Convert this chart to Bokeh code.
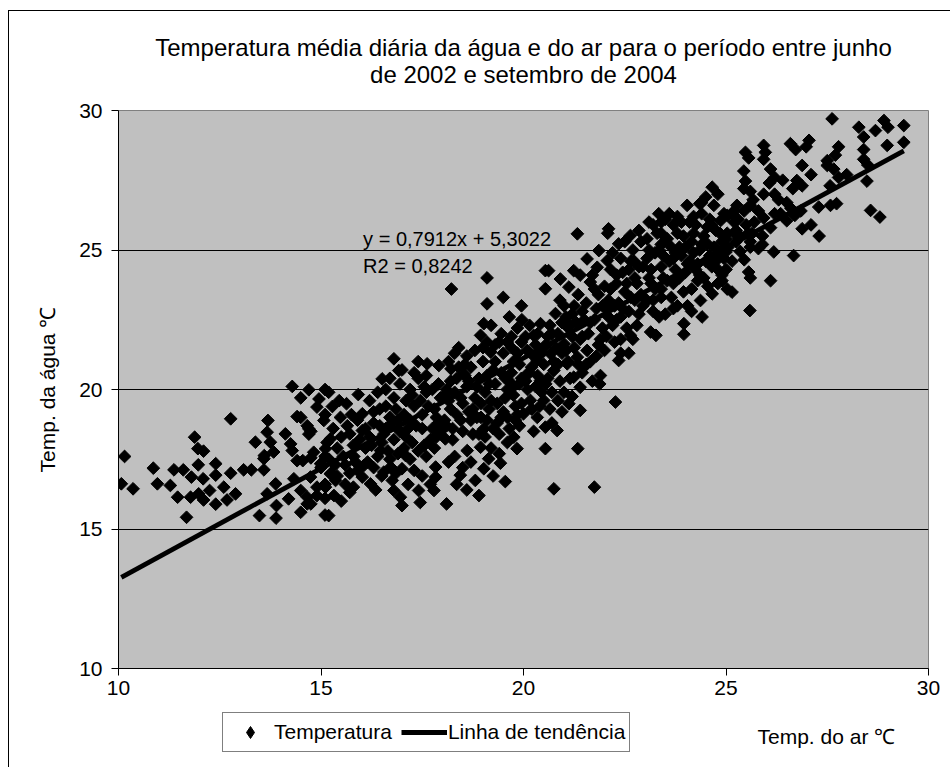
import math
from bokeh.plotting import figure
from bokeh.layouts import column
from bokeh.models import Range1d, FixedTicker, Label, Legend, LegendItem
from bokeh.embed import file_html
from bokeh.resources import INLINE

FONT = "Liberation Sans"

# ---------------- data (air temperature, water temperature) in degC ----------------
seg_10_15 = [
    (10.07, 16.62), (10.15, 17.6), (10.36, 16.44), (10.86, 17.18), (10.96, 16.62), (11.28, 16.56),
    (11.37, 17.12), (11.46, 16.14), (11.6, 17.12), (11.68, 15.42), (11.78, 16.14), (11.8, 16.86),
    (11.88, 18.29), (11.96, 17.88), (11.97, 17.3), (11.98, 16.26), (12.09, 16.8), (12.1, 17.79),
    (12.1, 16.04), (12.25, 16.38), (12.4, 17.34), (12.4, 16.93), (12.4, 15.89), (12.6, 16.5),
    (12.68, 16.04), (12.77, 18.95), (12.77, 17.0), (12.89, 16.26), (13.09, 17.12), (13.28, 17.12),
    (13.38, 18.11), (13.48, 15.48), (13.59, 17.12), (13.59, 17.52), (13.6, 17.63), (13.67, 18.47),
    (13.67, 16.26), (13.69, 18.89), (13.75, 18.11), (13.83, 17.76), (13.88, 16.62), (13.89, 15.39),
    (13.9, 15.84), (14.12, 18.41), (14.2, 16.08), (14.25, 18.05), (14.29, 20.11), (14.29, 17.81),
    (14.33, 16.8), (14.41, 19.03), (14.41, 17.45), (14.5, 19.7), (14.5, 19.0), (14.5, 16.38),
    (14.5, 15.6), (14.55, 17.45), (14.66, 18.7), (14.66, 16.14), (14.66, 15.9), (14.7, 19.99),
    (14.7, 18.59), (14.7, 18.4), (14.74, 16.86), (14.75, 17.55), (14.75, 18.5), (14.75, 15.9),
    (14.82, 17.75), (14.9, 19.37), (14.9, 16.5), (14.9, 16.2), (14.95, 19.66), (14.99, 17.34),
]

seg_15_20 = [
    (15.0, 17.2), (15.1, 19.1), (15.1, 15.5), (15.1, 16.6), (15.1, 16.1), (15.1, 17.6), (15.1, 20.0),
    (15.07, 18.89), (15.11, 17.88), (15.11, 16.5), (15.19, 19.9), (15.19, 15.48), (15.23, 18.23),
    (15.23, 16.98), (15.28, 19.39), (15.32, 16.2), (15.36, 16.74), (15.48, 19.0), (15.63, 19.49),
    (15.71, 18.41), (15.71, 17.0), (15.71, 16.31), (15.81, 17.6), (15.92, 19.82), (16.02, 19.13),
    (16.02, 18.53), (16.02, 16.86), (16.06, 17.28), (16.22, 16.62), (16.3, 19.2), (16.47, 17.81),
    (16.51, 20.38), (16.55, 17.04), (16.72, 17.22), (16.76, 16.74), (16.8, 21.1), (16.8, 16.38),
    (16.92, 20.68), (16.96, 16.14), (17.0, 15.84), (17.0, 17.16), (17.0, 17.8), (17.09, 17.63),
    (17.41, 16.38), (17.62, 20.92), (17.79, 16.38), (17.83, 16.86), (17.83, 17.22), (17.91, 20.86),
    (18.07, 18.23), (18.1, 15.9), (18.21, 20.74), (18.22, 23.6), (18.44, 16.93), (18.53, 20.56),
    (18.61, 17.81), (18.7, 17.4), (18.7, 20.8), (18.81, 16.74), (18.94, 17.93), (18.94, 21.94),
    (19.0, 21.5), (19.0, 21.0), (19.02, 18.59), (19.02, 17.16), (19.02, 22.36), (19.1, 24.0),
    (19.1, 23.07), (19.1, 21.7), (19.14, 17.52), (19.19, 21.34), (19.2, 22.3), (19.3, 21.6),
    (19.43, 17.36), (19.6, 21.7), (19.7, 21.9), (19.76, 18.29), (19.84, 17.88), (19.9, 18.7),
    (19.95, 23.0), (19.95, 21.7), (19.96, 22.5),
    (15.2, 17.5), (15.4, 17.9), (15.5, 18.3), (15.6, 17.3), (15.8, 18.0), (15.9, 18.9), (15.4, 16.9),
    (15.6, 16.6), (15.3, 18.6), (15.9, 17.1), (15.5, 16.0), (15.8, 16.5), (15.45, 19.6), (15.75, 19.1),
    (15.15, 18.1), (15.35, 17.3), (15.55, 17.6), (15.65, 18.7), (15.85, 17.4), (15.95, 18.2),
    (15.25, 17.0),
    (16.1, 17.9), (16.2, 18.3), (16.3, 18.8), (16.4, 17.6), (16.5, 18.1), (16.6, 18.6), (16.7, 19.0),
    (16.8, 18.2), (16.9, 17.7), (16.2, 19.6), (16.4, 19.9), (16.6, 19.4), (16.8, 19.7), (16.9, 18.9),
    (16.3, 17.2), (16.5, 16.9), (16.7, 17.5), (16.1, 18.6), (16.6, 20.0), (16.95, 20.2), (16.35, 16.4),
    (16.85, 17.0), (16.15, 17.4), (16.25, 18.0), (16.45, 18.7), (16.55, 18.4), (16.65, 17.8),
    (16.75, 18.8), (16.85, 19.3), (16.95, 18.5), (16.45, 19.3), (16.7, 20.4),
    (17.1, 18.3), (17.2, 18.9), (17.3, 19.4), (17.4, 17.8), (17.5, 18.6), (17.6, 19.9), (17.7, 18.2),
    (17.8, 19.3), (17.9, 20.2), (17.2, 20.0), (17.4, 20.4), (17.6, 17.6), (17.8, 17.9), (17.3, 17.1),
    (17.5, 16.9), (17.7, 16.6), (17.9, 18.8), (17.1, 19.6), (17.5, 19.1), (17.95, 19.7), (17.3, 20.6),
    (17.6, 20.5), (17.2, 17.5), (17.15, 16.6), (17.45, 15.95), (17.05, 17.9), (17.05, 19.1),
    (17.15, 18.6), (17.25, 18.1), (17.25, 19.8), (17.35, 18.7), (17.45, 19.6), (17.55, 18.0),
    (17.55, 20.1), (17.65, 19.4), (17.75, 18.6), (17.75, 20.0), (17.85, 18.3), (17.85, 19.0),
    (17.95, 18.5), (17.0, 20.7), (17.4, 21.0),
    (18.1, 18.7), (18.2, 19.3), (18.3, 19.9), (18.5, 19.5), (18.6, 20.1), (18.7, 18.9), (18.8, 19.7),
    (18.9, 20.4), (18.2, 20.3), (18.4, 20.8), (18.6, 21.2), (18.8, 21.4), (18.9, 18.4), (18.3, 17.6),
    (18.5, 17.2), (18.15, 17.4), (18.35, 16.6), (18.6, 16.4), (18.9, 16.2), (18.45, 18.9), (18.75, 19.3),
    (18.05, 19.8), (18.95, 19.0), (18.55, 20.5), (18.3, 21.3), (18.25, 18.2), (18.05, 18.9),
    (18.1, 20.0), (18.15, 19.6), (18.25, 18.6), (18.35, 19.1), (18.35, 20.4), (18.45, 19.7),
    (18.5, 18.5), (18.55, 20.9), (18.65, 19.2), (18.65, 20.3), (18.75, 18.4), (18.85, 20.1),
    (18.85, 19.0), (18.95, 19.5), (18.4, 21.5), (18.15, 21.0),
    (19.1, 18.9), (19.2, 19.6), (19.3, 20.2), (19.4, 18.4), (19.5, 19.2), (19.6, 20.0), (19.7, 20.6),
    (19.8, 19.4), (19.9, 20.9), (19.1, 20.5), (19.3, 21.0), (19.5, 21.3), (19.7, 21.5), (19.2, 17.9),
    (19.4, 17.7), (19.6, 18.1), (19.8, 18.9), (19.05, 19.9), (19.35, 18.8), (19.55, 20.4), (19.75, 19.8),
    (19.95, 19.5), (19.45, 22.0), (19.65, 22.6), (19.85, 22.2), (19.25, 16.9), (19.55, 16.7), (19.5, 23.3),
    (19.9, 20.2), (19.6, 19.0), (19.05, 18.3), (19.15, 19.3), (19.15, 20.2), (19.25, 20.7),
    (19.25, 18.6), (19.35, 19.5), (19.45, 20.6), (19.45, 19.0), (19.4, 21.7), (19.55, 19.7),
    (19.65, 20.3), (19.65, 18.6), (19.75, 21.0), (19.75, 20.1), (19.85, 19.1), (19.85, 21.3),
    (19.95, 20.4),
]

seg_20_25 = [
    (20.0, 19.13), (20.09, 21.4), (20.09, 20.56), (20.17, 19.61), (20.25, 21.94), (20.25, 18.5),
    (20.34, 21.04), (20.34, 19.0), (20.42, 22.36), (20.42, 20.32), (20.5, 19.61), (20.54, 24.26),
    (20.54, 23.61), (20.54, 18.65), (20.54, 17.88), (20.62, 24.26), (20.67, 21.28), (20.7, 22.0),
    (20.7, 18.8), (20.75, 20.68), (20.75, 16.44), (20.79, 22.72), (20.83, 18.53), (20.9, 23.2),
    (20.91, 23.96), (21.0, 23.0), (21.0, 21.64), (21.0, 19.9), (21.08, 22.24), (21.08, 20.92),
    (21.12, 23.67), (21.12, 19.49), (21.2, 22.7), (21.2, 19.75), (21.24, 24.26), (21.24, 20.44),
    (21.33, 25.58), (21.33, 21.16), (21.34, 17.88), (21.4, 24.1), (21.4, 21.8), (21.4, 20.08),
    (21.4, 19.25), (21.49, 20.8), (21.5, 22.5), (21.57, 24.68), (21.57, 21.4), (21.6, 22.0),
    (21.65, 23.85), (21.7, 20.3), (21.75, 16.5), (21.8, 22.9), (21.8, 21.2), (21.82, 24.38),
    (21.86, 24.98), (21.88, 20.2), (21.9, 21.8), (21.9, 20.5), (22.0, 23.7), (22.0, 21.4),
    (22.07, 24.62), (22.08, 25.6), (22.1, 25.76), (22.1, 23.2), (22.1, 22.6), (22.2, 22.3),
    (22.27, 19.55), (22.3, 24.1), (22.35, 25.22), (22.35, 21.04), (22.4, 24.7), (22.4, 22.6),
    (22.4, 21.8), (22.4, 21.3), (22.5, 23.5), (22.6, 24.3), (22.6, 22.8), (22.6, 21.3),
    (22.64, 25.52), (22.64, 21.94), (22.73, 24.6), (22.7, 25.0), (22.8, 23.8), (22.8, 22.3),
    (22.85, 25.7), (22.9, 23.4), (23.05, 23.19), (23.1, 26.0), (23.1, 25.0), (23.1, 24.0),
    (23.14, 22.06), (23.2, 25.9), (23.2, 22.8), (23.27, 21.94), (23.34, 26.3), (23.4, 26.0),
    (23.4, 25.2), (23.4, 25.6), (23.4, 24.4), (23.4, 23.6), (23.4, 23.3), (23.5, 26.1),
    (23.5, 22.7), (23.6, 26.3), (23.7, 25.9), (23.7, 24.7), (23.7, 23.8), (23.7, 22.9),
    (23.8, 26.2), (23.8, 25.6), (23.8, 23.0), (23.96, 22.36), (23.96, 21.98), (24.0, 25.1),
    (24.0, 24.2), (24.04, 26.6), (24.1, 26.0), (24.15, 23.6), (24.2, 26.2), (24.2, 25.6),
    (24.3, 24.5), (24.3, 23.9), (24.35, 26.66), (24.37, 23.19), (24.4, 26.7), (24.4, 26.3),
    (24.4, 25.2), (24.41, 22.6), (24.5, 24.6), (24.54, 25.82), (24.6, 24.8), (24.66, 27.25),
    (24.66, 23.43), (24.7, 26.6), (24.7, 25.1), (24.8, 24.3), (24.8, 23.8), (24.87, 26.06),
    (24.9, 25.3), (24.9, 23.9), (24.9, 24.1), (24.95, 24.7),
    (20.1, 20.0), (20.2, 20.8), (20.3, 21.6), (20.4, 19.4), (20.5, 20.9), (20.6, 21.9), (20.7, 19.9),
    (20.8, 21.5), (20.9, 20.3), (20.95, 22.4), (20.15, 22.3), (20.6, 20.4), (20.85, 19.6), (20.3, 20.1),
    (20.05, 20.3), (20.05, 21.9), (20.15, 20.6), (20.2, 19.3), (20.25, 21.2), (20.35, 20.5),
    (20.35, 22.0), (20.45, 21.3), (20.45, 19.9), (20.55, 20.2), (20.55, 21.6), (20.65, 19.3),
    (20.65, 22.3), (20.75, 21.0), (20.85, 20.9), (20.85, 22.0), (20.95, 21.3), (20.95, 19.2),
    (21.1, 21.0), (21.2, 21.9), (21.3, 22.4), (21.45, 20.6), (21.55, 23.1), (21.65, 21.0), (21.75, 22.5),
    (21.85, 23.4), (21.95, 22.2), (21.25, 23.0), (21.35, 20.9), (21.05, 22.6), (21.7, 24.1),
    (21.05, 21.4), (21.15, 20.4), (21.15, 22.3), (21.25, 21.5), (21.35, 23.4), (21.45, 21.9),
    (21.45, 22.8), (21.55, 20.9), (21.65, 22.4), (21.75, 23.6), (21.85, 21.6), (21.95, 23.0),
    (22.05, 22.9), (22.15, 23.6), (22.25, 21.7), (22.35, 23.1), (22.45, 24.2), (22.55, 22.2),
    (22.65, 23.3), (22.75, 24.0), (22.85, 22.7), (22.95, 24.4), (22.2, 24.9), (22.5, 25.3),
    (22.9, 25.3), (22.3, 22.5), (22.7, 21.8), (22.05, 21.9), (22.15, 24.3), (22.25, 23.0),
    (22.3, 23.8), (22.45, 22.9), (22.55, 23.8), (22.65, 24.6), (22.75, 23.2), (22.85, 24.4),
    (22.95, 23.0),
    (23.05, 24.7), (23.15, 23.8), (23.25, 24.9), (23.35, 22.6), (23.45, 24.0), (23.55, 25.4),
    (23.65, 23.3), (23.75, 24.3), (23.85, 25.1), (23.95, 23.5), (23.2, 23.2), (23.6, 24.6),
    (23.9, 24.8), (23.3, 25.6), (23.9, 26.0), (23.05, 25.4), (23.15, 24.3), (23.25, 23.6),
    (23.35, 25.0), (23.45, 24.8), (23.55, 23.9), (23.65, 25.1), (23.75, 24.9), (23.85, 24.0),
    (23.95, 25.5),
    (24.05, 23.0), (24.1, 24.6), (24.2, 24.9), (24.25, 25.9), (24.35, 24.1), (24.45, 25.5),
    (24.55, 23.7), (24.6, 26.1), (24.65, 24.4), (24.75, 25.7), (24.85, 24.9), (24.95, 26.3),
    (24.15, 22.8), (24.5, 26.9), (24.8, 27.0), (24.05, 24.5), (24.15, 25.3), (24.25, 24.3),
    (24.35, 25.0), (24.45, 24.0), (24.55, 25.2), (24.65, 25.9), (24.75, 24.6), (24.85, 25.6),
    (24.95, 25.0),
]

seg_25_30 = [
    (25.0, 24.93), (25.0, 25.4), (25.0, 24.3), (25.03, 26.24), (25.03, 25.6), (25.03, 23.6),
    (25.15, 23.49), (25.2, 26.4), (25.2, 26.0), (25.2, 25.6), (25.25, 25.3), (25.27, 26.6),
    (25.3, 26.1), (25.35, 24.95), (25.44, 27.83), (25.44, 27.2), (25.45, 24.65), (25.48, 28.5),
    (25.48, 27.47), (25.5, 25.9), (25.56, 28.3), (25.56, 24.21), (25.59, 22.83), (25.6, 27.1),
    (25.6, 26.6), (25.6, 25.3), (25.6, 25.1), (25.6, 24.0), (25.67, 26.8), (25.7, 26.0),
    (25.8, 26.4), (25.8, 25.05), (25.9, 25.5), (25.9, 25.2), (25.93, 28.75), (25.93, 28.25),
    (25.93, 27.0), (25.93, 26.15), (25.97, 28.5), (26.07, 27.4), (26.1, 27.9), (26.1, 25.8),
    (26.1, 23.9), (26.18, 24.93), (26.2, 27.6), (26.2, 27.0), (26.2, 26.3), (26.3, 26.8),
    (26.35, 26.3), (26.4, 27.5), (26.5, 26.7), (26.5, 26.05), (26.59, 28.81), (26.6, 26.5),
    (26.65, 27.2), (26.67, 24.8), (26.7, 26.24), (26.72, 28.6), (26.75, 27.49), (26.85, 26.4),
    (26.88, 28.03), (26.88, 27.3), (26.88, 25.76), (26.98, 28.7), (27.05, 28.93), (27.1, 27.7),
    (27.1, 25.9), (27.29, 26.54), (27.3, 25.5), (27.5, 28.03), (27.5, 28.2), (27.57, 27.3),
    (27.58, 26.6), (27.62, 29.7), (27.66, 27.9), (27.7, 28.4), (27.73, 26.66), (27.78, 28.7),
    (27.78, 27.6), (27.98, 27.7), (28.28, 29.4), (28.4, 29.05), (28.4, 28.6), (28.4, 28.25),
    (28.48, 27.47), (28.5, 28.05), (28.57, 26.42), (28.69, 29.28), (28.8, 26.18), (28.9, 29.64),
    (28.98, 28.75), (29.0, 29.4), (29.39, 29.46), (29.39, 28.86),
    (25.05, 25.1), (25.15, 24.6), (25.15, 26.3), (25.25, 25.7), (25.35, 25.5), (25.45, 26.4),
    (25.55, 25.6), (25.65, 25.6),
]

trend_slope = 0.7912
trend_intercept = 5.3022
x_ticks = [10, 15, 20, 25, 30]
y_ticks = [10, 15, 20, 25, 30]
grid_ticks = [15, 20, 25]

title_line1 = "Temperatura média diária da água e do ar para o período entre junho"
title_line2 = "de 2002 e setembro de 2004"
equation_text = "y = 0,7912x + 5,3022"
r2_text = "R2 = 0,8242"
y_label = "Temp. da água ℃"
x_label = "Temp. do ar ℃"
legend_labels = ["Temperatura", "Linha de tendência"]

all_pairs = seg_10_15 + seg_15_20 + seg_20_25 + seg_25_30
air_temp = [a for a, w in all_pairs]
water_temp = [w for a, w in all_pairs]

BORDERS = dict(min_border_left=109, min_border_right=22)


def strip_figure(height):
    """A white strip whose x and y ranges count pixels from the plot area's left / strip bottom."""
    f = figure(width=941, height=height, output_backend="svg", toolbar_location=None,
               x_range=Range1d(0, 810), y_range=Range1d(0, height), title=None,
               x_axis_type=None, y_axis_type=None,
               min_border_top=0, min_border_bottom=0, **BORDERS)
    f.outline_line_color = None
    f.background_fill_color = "white"
    f.border_fill_color = "white"
    f.xgrid.visible = False
    f.ygrid.visible = False
    return f


# ---------------- title strip ----------------
t = strip_figure(85)
t.add_layout(Label(x=405, y=49, text=title_line1, text_align="center", text_baseline="middle",
                   text_font=FONT, text_font_size="24px", text_color="black"))
t.add_layout(Label(x=405, y=22, text=title_line2, text_align="center", text_baseline="middle",
                   text_font=FONT, text_font_size="24px", text_color="black"))

# ---------------- main figure ----------------
p = figure(width=941, height=615, output_backend="svg", toolbar_location=None,
           x_range=Range1d(10, 30), y_range=Range1d(10, 30), title=None,
           min_border_top=14, min_border_bottom=43, **BORDERS)

p.background_fill_color = "#C0C0C0"
p.border_fill_color = "white"
p.outline_line_color = "#808080"
p.outline_line_width = 1

p.xaxis.ticker = FixedTicker(ticks=x_ticks)
p.yaxis.ticker = FixedTicker(ticks=y_ticks)
p.axis.minor_tick_line_color = None
p.axis.major_tick_in = 0
p.axis.major_tick_out = 7
p.axis.major_tick_line_color = "black"
p.axis.axis_line_color = "black"
p.axis.major_label_text_font = FONT
p.axis.major_label_text_font_size = "21px"
p.axis.major_label_text_color = "black"
p.xaxis.major_label_standoff = 5
p.yaxis.major_label_standoff = 9

p.yaxis.axis_label = y_label
p.yaxis.axis_label_text_font = FONT
p.yaxis.axis_label_text_font_size = "21px"
p.yaxis.axis_label_text_font_style = "normal"
p.yaxis.axis_label_text_color = "black"
p.yaxis.axis_label_standoff = 17

p.xgrid.visible = False
p.ygrid.ticker = FixedTicker(ticks=grid_ticks)
p.ygrid.grid_line_color = "black"
p.ygrid.grid_line_width = 1

p.scatter(air_temp, water_temp, marker="square", angle=math.pi / 4, size=9,
          fill_color="black", line_color="black")

trend_x = [min(air_temp), max(air_temp)]
trend_y = [trend_slope * x + trend_intercept for x in trend_x]
p.line(trend_x, trend_y, line_width=4.8, line_color="black")

p.add_layout(Label(x=16.04, y=25.4, text=equation_text, text_baseline="middle",
                   text_font=FONT, text_font_size="20px", text_color="black"))
p.add_layout(Label(x=16.04, y=24.43, text=r2_text, text_baseline="middle",
                   text_font=FONT, text_font_size="20px", text_color="black"))

# ---------------- legend strip ----------------
q = strip_figure(56)
nan = float("nan")
leg_pts = q.scatter(x=[nan], y=[nan], marker="diamond", size=10,
                    fill_color="black", line_color="black")
leg_line = q.line(x=[nan, nan], y=[nan, nan], line_width=4.8, line_color="black")

legend = Legend(items=[LegendItem(label=legend_labels[0], renderers=[leg_pts]),
                       LegendItem(label=legend_labels[1], renderers=[leg_line])],
                orientation="horizontal", location=(104, 15),
                border_line_color="black", border_line_width=1,
                background_fill_color="white", background_fill_alpha=1,
                label_text_font=FONT, label_text_font_size="21px", label_text_color="black",
                glyph_width=46, glyph_height=30, label_standoff=1, spacing=9,
                padding=4, margin=0)
q.add_layout(legend)

q.add_layout(Label(x=639, y=31, text=x_label, text_baseline="middle",
                   text_font=FONT, text_font_size="21px", text_color="black"))

layout = column(t, p, q, spacing=0, margin=(10, 0, 0, 8),
                styles={"border-left": "1px solid black", "border-top": "1px solid black"})

open("out.html", "w").write(file_html(layout, INLINE))
